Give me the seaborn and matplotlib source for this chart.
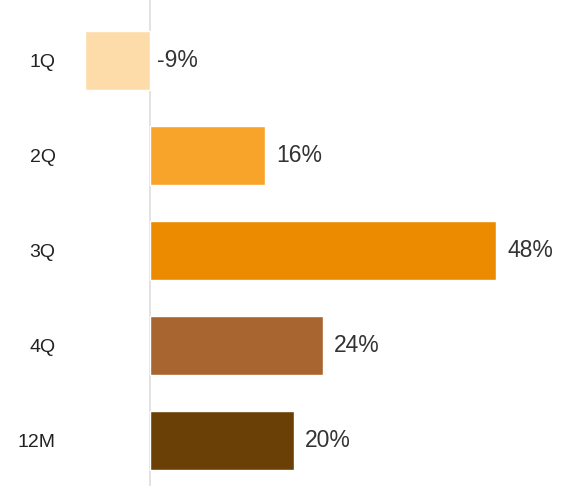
import seaborn as sns
import matplotlib.pyplot as plt
import pandas as pd

# data
periods = ['1Q', '2Q', '3Q', '4Q', '12M']
growth = [-9, 16, 48, 24, 20]
bar_colors = ['#FDDCAA', '#F8A42A', '#EC8B00', '#A9652F', '#6A4006']

data = pd.DataFrame({'Period': periods, 'Growth': growth})

sns.set_style('white')
plt.rcParams['font.family'] = ['Liberation Sans', 'DejaVu Sans']

fig = plt.figure(figsize=(5.64, 4.86), dpi=100)
ax = fig.add_axes([0, 0, 1, 1])

sns.barplot(data=data, y='Period', x='Growth', hue='Period', palette=bar_colors,
            orient='h', width=0.62, legend=False, ax=ax, saturation=1)

ax.axvline(0, color='#DDDDDD', linewidth=1.2, zorder=0)

for i, v in enumerate(growth):
    off = 8 if v > 0 else 5
    ax.annotate(f'{v}%', xy=(max(v, 0), i), xytext=(off, 0), textcoords='offset points',
                ha='left', va='center', fontsize=16.5, color='#333333')

ax.set_xlim(-20.8, 57.4)
ax.set_ylim(4.48, -0.64)
ax.set_xticks([])
ax.set_xlabel('')
ax.set_ylabel('')
# labels sit inside the axes, right-aligned around x=55px
ax.tick_params(axis='y', length=0, pad=-40, labelsize=14, labelcolor='#222222')
sns.despine(left=True, bottom=True)

plt.savefig('out.png', dpi=100)
